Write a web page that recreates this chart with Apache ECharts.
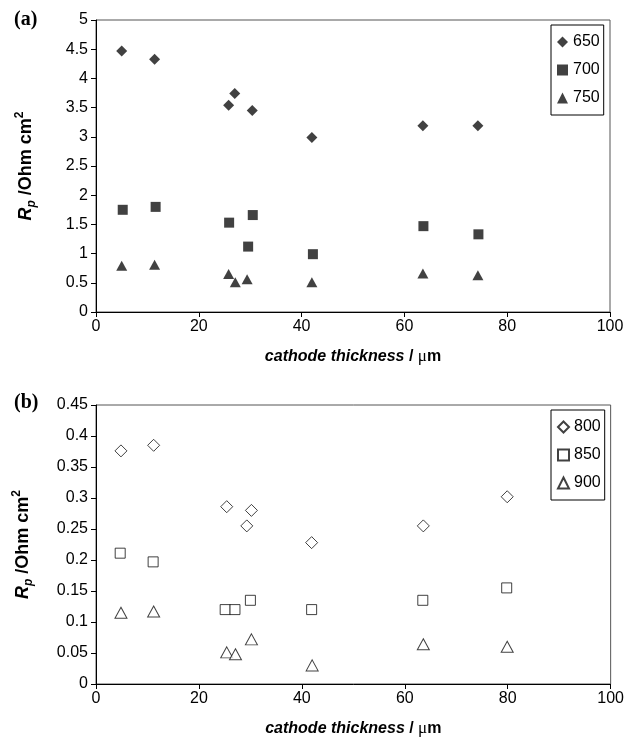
<!DOCTYPE html>
<html>
<head>
<meta charset="utf-8">
<script src="https://cdn.jsdelivr.net/npm/echarts@6/dist/echarts.min.js"></script>
<style>
  html, body { margin: 0; padding: 0; background: #fff; }
  #main { width: 627px; height: 743px; }
</style>
</head>
<body>
<div id="main"></div>
<script>
// (a) low temperatures
var x650 = [5.0, 11.4, 25.8, 27.0, 30.4, 42.0, 63.6, 74.3];
var y650 = [4.47, 4.33, 3.54, 3.74, 3.45, 2.99, 3.19, 3.19];
var x700 = [5.2, 11.6, 25.9, 29.6, 30.5, 42.2, 63.7, 74.4];
var y700 = [1.75, 1.80, 1.53, 1.12, 1.66, 0.99, 1.47, 1.33];
var x750 = [5.0, 11.4, 25.8, 27.1, 29.4, 42.0, 63.6, 74.3];
var y750 = [0.79, 0.81, 0.65, 0.51, 0.56, 0.51, 0.66, 0.63];

// (b) high temperatures
var x800 = [4.85, 11.2, 25.4, 29.3, 30.2, 41.9, 63.6, 79.9];
var y800 = [0.376, 0.385, 0.286, 0.255, 0.280, 0.228, 0.255, 0.302];
var x850 = [4.7, 11.1, 25.1, 27.0, 30.0, 41.9, 63.5, 79.8];
var y850 = [0.211, 0.197, 0.120, 0.120, 0.135, 0.120, 0.135, 0.155];
var x900 = [4.85, 11.2, 25.4, 27.1, 30.2, 42.0, 63.6, 79.9];
var y900 = [0.115, 0.117, 0.051, 0.048, 0.072, 0.030, 0.064, 0.060];

var pairs = function(xs, ys) {
	return xs.map(function(x, i) { return [x, ys[i]]; });
};

var font = 'Liberation Sans, Arial, sans-serif';

var xName = '{bi|cathode thickness}{b| / }{mu|μ}{b|m}';
var xRich = {
	bi: { fontFamily: font, fontSize: 16, fontWeight: 'bold', fontStyle: 'italic', color: '#000' },
	b: { fontFamily: font, fontSize: 16, fontWeight: 'bold', color: '#000' },
	mu: { fontFamily: 'Liberation Serif, serif', fontSize: 17, color: '#000' }
};
var yName = '{r|R}{sub|p}{b| /Ohm cm}{sup|2}';
var yRich = {
	r: { fontFamily: font, fontSize: 18, fontWeight: 'bold', fontStyle: 'italic', lineHeight: 24, color: '#000' },
	sub: { fontFamily: font, fontSize: 12, fontWeight: 'bold', fontStyle: 'italic', lineHeight: 13, verticalAlign: 'bottom', color: '#000' },
	b: { fontFamily: font, fontSize: 18, fontWeight: 'bold', lineHeight: 24, color: '#000' },
	sup: { fontFamily: font, fontSize: 12, fontWeight: 'bold', lineHeight: 13, verticalAlign: 'top', color: '#000' }
};

var axisBase = {
	axisLine: { lineStyle: { color: '#000', width: 1 } },
	axisTick: { inside: false, length: 5, lineStyle: { color: '#000' } },
	axisLabel: { fontFamily: font, fontSize: 16, color: '#000' },
	splitLine: { show: false }
};

var xAxisOpt = function(idx) {
	return Object.assign({}, axisBase, {
		type: 'value', gridIndex: idx, min: 0, max: 100, interval: 20,
		name: xName, nameLocation: 'middle', nameGap: 36,
		nameTextStyle: { rich: xRich },
		axisLabel: { fontFamily: font, fontSize: 16, color: '#000', margin: 7 }
	});
};

var filled = { color: '#111' };
var hollow = { color: '#fff', borderColor: '#111', borderWidth: 1 };

var legendBase = {
	orient: 'vertical', left: 551, width: 54,
	borderColor: '#000', borderWidth: 1, padding: [9, 4, 9, 6],
	itemGap: 12, itemWidth: 11, itemHeight: 11,
	textStyle: { fontFamily: font, fontSize: 16, color: '#000' }
};

var option = {
	animation: false,
	backgroundColor: '#fff',
	grid: [
		{ left: 96, right: 17, top: 20, bottom: 431, show: true, borderColor: '#555', borderWidth: 1, backgroundColor: 'transparent' },
		{ left: 96, right: 16, top: 405, bottom: 59, show: true, borderColor: '#555', borderWidth: 1, backgroundColor: 'transparent' }
	],
	xAxis: [xAxisOpt(0), xAxisOpt(1)],
	yAxis: [
		Object.assign({}, axisBase, {
			type: 'value', gridIndex: 0, min: 0, max: 5, interval: 0.5,
			name: yName, nameLocation: 'middle', nameGap: 58,
			nameTextStyle: { rich: yRich }
		}),
		Object.assign({}, axisBase, {
			type: 'value', gridIndex: 1, min: 0, max: 0.45, interval: 0.05,
			name: yName, nameLocation: 'middle', nameGap: 61,
			nameTextStyle: { rich: yRich }
		})
	],
	legend: [
		Object.assign({}, legendBase, { data: ['650', '700', '750'], top: 25 }),
		Object.assign({}, legendBase, { data: ['800', '850', '900'], top: 410 })
	],
	graphic: [
		{ type: 'text', left: 14, top: 10, style: { text: '(a)', fontFamily: 'Liberation Serif, serif', fontWeight: 'bold', fontSize: 20, fill: '#000' } },
		{ type: 'text', left: 14, top: 393, style: { text: '(b)', fontFamily: 'Liberation Serif, serif', fontWeight: 'bold', fontSize: 20, fill: '#000' } }
	],
	series: [
		{ name: '650', type: 'scatter', xAxisIndex: 0, yAxisIndex: 0, symbol: 'diamond', symbolSize: 11, itemStyle: filled, data: pairs(x650, y650) },
		{ name: '700', type: 'scatter', xAxisIndex: 0, yAxisIndex: 0, symbol: 'rect', symbolSize: 10, itemStyle: filled, data: pairs(x700, y700) },
		{ name: '750', type: 'scatter', xAxisIndex: 0, yAxisIndex: 0, symbol: 'triangle', symbolSize: [11, 10], itemStyle: filled, data: pairs(x750, y750) },
		{ name: '800', type: 'scatter', xAxisIndex: 1, yAxisIndex: 1, symbol: 'diamond', symbolSize: 12, itemStyle: hollow, data: pairs(x800, y800) },
		{ name: '850', type: 'scatter', xAxisIndex: 1, yAxisIndex: 1, symbol: 'rect', symbolSize: 10, itemStyle: hollow, data: pairs(x850, y850) },
		{ name: '900', type: 'scatter', xAxisIndex: 1, yAxisIndex: 1, symbol: 'triangle', symbolSize: [12, 11], itemStyle: hollow, data: pairs(x900, y900) }
	]
};

var chart = echarts.init(document.getElementById('main'));
chart.setOption(option);
</script>
</body>
</html>
